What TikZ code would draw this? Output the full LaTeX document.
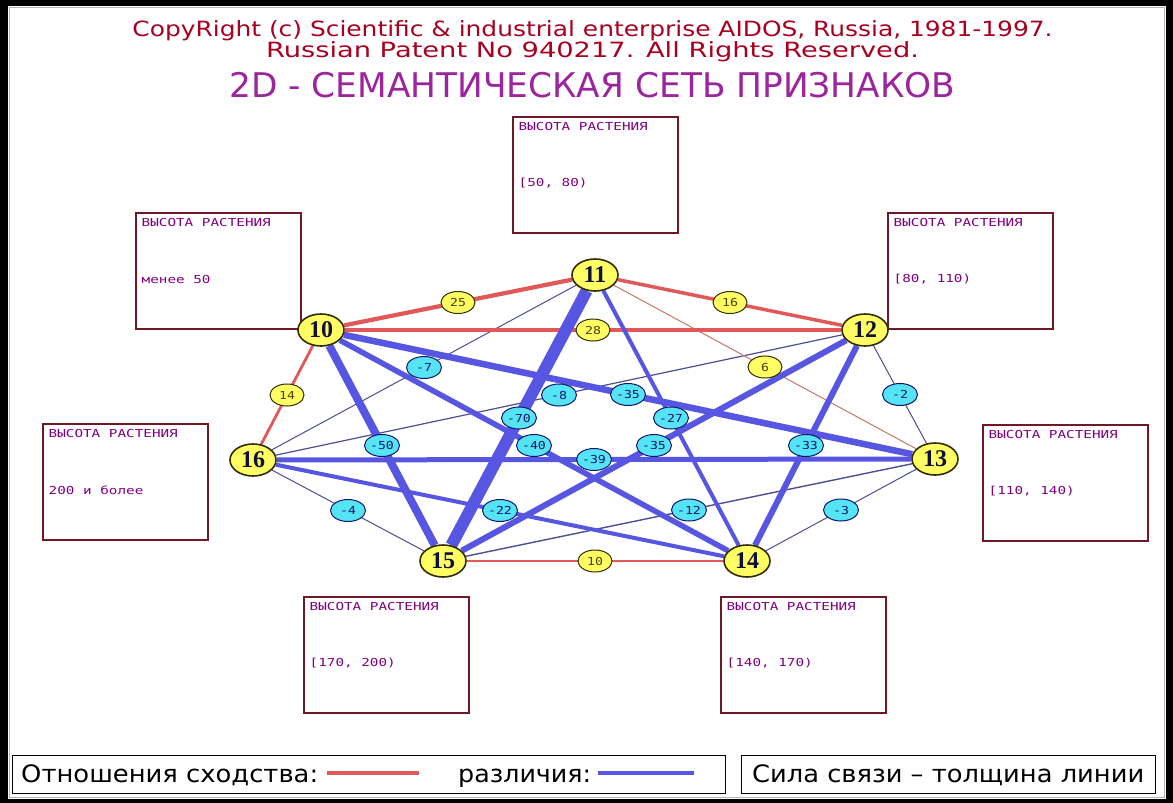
\documentclass[tikz,border=0pt]{standalone}
\usepackage{fontspec}
\usepackage{graphicx}
\setmainfont{DejaVu Sans}
\newfontfamily\monof{DejaVu Sans Mono}
\newfontfamily\numf{Liberation Serif}
\usetikzlibrary{shapes.geometric,calc}
\definecolor{cred}{RGB}{226,88,88}
\definecolor{cthinred}{RGB}{196,120,110}
\definecolor{cblue}{RGB}{86,86,226}
\definecolor{cthin}{RGB}{78,78,150}
\definecolor{nyellow}{RGB}{255,255,100}
\definecolor{ncyan}{RGB}{84,228,244}
\definecolor{nedge}{RGB}{50,44,0}
\definecolor{numtext}{RGB}{16,16,60}
\definecolor{ytext}{RGB}{80,60,0}
\definecolor{ctext}{RGB}{20,20,110}
\definecolor{titlered}{RGB}{168,0,32}
\definecolor{titlepurple}{RGB}{156,36,156}
\definecolor{boxtext}{RGB}{128,0,128}
\definecolor{boxborder}{RGB}{112,24,40}
\pgfdeclarelayer{bg}
\pgfdeclarelayer{edges}
\pgfsetlayers{bg,edges,main}
\newcommand\fitw[3]{\resizebox{#1}{\height}{\fontsize{#2}{#2}\selectfont #3}}
\newcommand\btx[1]{\scalebox{1.3}[1]{#1}}
\newcommand\lbx[1]{\scalebox{1.2}[1]{#1}}
\newcommand\mkbox[4]{%
  \node[infobox] (#1) at (#2,#3) {};
  \node[boxtxt] (#1t) at ($(#1.north west)+(6.5,10)$) {\btx{ВЫСОТА РАСТЕНИЯ}};
  \node[boxtxt] (#1v) at ($(#1.north west)+(6.5,67)$) {\btx{#4}};
}
\begin{document}
\begin{tikzpicture}[x=1pt,y=-1pt,
  vert/.style={ellipse, draw=nedge, line width=1.6pt, fill=nyellow, minimum width=46pt, minimum height=32pt, inner sep=0pt, text=numtext, font=\numf\bfseries\fontsize{24}{24}\selectfont},
  ylab/.style={ellipse, draw=nedge, line width=1pt, fill=nyellow, minimum width=34pt, minimum height=22pt, inner sep=0pt, text=ytext, font=\monof\fontsize{11}{11}\selectfont},
  clab/.style={ellipse, draw=ctext, line width=1pt, fill=ncyan, minimum width=35pt, minimum height=22pt, inner sep=0pt, text=ctext, font=\monof\fontsize{11}{11}\selectfont},
  rd/.style={draw=cred, line width=#1},
  bl/.style={draw=cblue, line width=#1},
  thinbl/.style={draw=cthin, line width=#1},
  infobox/.style={draw=boxborder, line width=1.5pt, minimum width=165pt, minimum height=116pt, anchor=north west, inner sep=0pt},
  boxtxt/.style={anchor=west, inner sep=0pt, text=boxtext, font=\monof\fontsize{11}{11}\selectfont},
  legbox/.style={draw=black, line width=1.3pt, anchor=north west, inner sep=0pt, minimum height=38pt},
  legtxt/.style={anchor=base west, inner sep=0pt, text=black}
]
\useasboundingbox (0,0) rectangle (1173,803);
\begin{pgfonlayer}{bg}
  \fill[black] (0,0) rectangle (1173,803);
  \fill[white] (8,6) rectangle (1166,799);
  \draw[gray!60, line width=1pt] (9.5,7.5) rectangle (1164.5,797.5);
\end{pgfonlayer}

% titles
\node[anchor=base, inner sep=0pt, text=titlered] (t1) at (592.5,36)
  {\fitw{920pt}{21}{CopyRight (c) Scientific \& industrial enterprise AIDOS, Russia, 1981-1997.}};
\node[anchor=base, inner sep=0pt, text=titlered] (t2) at (592.5,57.5)
  {\fitw{653pt}{21}{Russian Patent No 940217. All Rights Reserved.}};
\node[anchor=base west, inner sep=0pt, text=titlepurple] (t3) at (229,97) {\fitw{726pt}{34}{2D - СЕМАНТИЧЕСКАЯ СЕТЬ ПРИЗНАКОВ}};

% info boxes
\mkbox{b11}{512}{116}{[50, 80)}
\mkbox{b10}{135}{212}{менее 50}
\mkbox{b12}{887}{212}{[80, 110)}
\mkbox{b16}{42}{423}{200 и более}
\mkbox{b13}{982}{424}{[110, 140)}
\mkbox{b15}{303}{596}{[170, 200)}
\mkbox{b14}{720}{596}{[140, 170)}

% vertices
\node[vert] (n10) at (321,330) {10};
\node[vert] (n11) at (595,275) {11};
\node[vert] (n12) at (865,330) {12};
\node[vert] (n13) at (935,459) {13};
\node[vert] (n14) at (747,561) {14};
\node[vert] (n15) at (443,561) {15};
\node[vert] (n16) at (253,460) {16};

% edges
\begin{pgfonlayer}{edges}
  \draw[thinbl=1] (n11) -- (n16);
  \draw[thinbl=1.2] (n12) -- (n16);
  \draw[thinbl=1] (n12) -- (n13);
  \draw[thinbl=1] (n13) -- (n14);
  \draw[thinbl=1.4] (n15) -- (n13);
  \draw[thinbl=1] (n16) -- (n15);
  \draw[draw=cthinred, line width=1pt] (n11) -- (n13);
  \draw[rd=1.5] (n15) -- (n14);
  \draw[rd=2.8] (n10) -- (n16);
  \draw[rd=3.5] (n10) -- (n12);
  \draw[rd=3.5] (n11) -- (n12);
  \draw[rd=4.2] (n10) -- (n11);
  \draw[bl=4] (n16) -- (n14);
  \draw[bl=4] (n11) -- (n14);
  \draw[bl=5] (n16) -- (n13);
  \draw[bl=5.5] (n10) -- (n14);
  \draw[bl=6] (n12) -- (n14);
  \draw[bl=6] (n12) -- (n15);
  \draw[bl=6.5] (n10) -- (n13);
  \draw[bl=8] (n10) -- (n15);
  \draw[bl=12] (n11) -- (n15);
\end{pgfonlayer}

% edge labels
\path (n10) -- node[ylab] (l1011) {\lbx{25}} (n11);
\path (n11) -- node[ylab] (l1112) {\lbx{16}} (n12);
\path (n10) -- node[ylab] (l1012) {\lbx{28}} (n12);
\path (n10) -- node[ylab] (l1016) {\lbx{14}} (n16);
\path (n11) -- node[ylab] (l1113) {\lbx{6}} (n13);
\path (n15) -- node[ylab] (l1514) {\lbx{10}} (n14);
\path (n10) -- node[clab] (l1015) {\lbx{-50}} (n15);
\path (n10) -- node[clab] (l1013) {\lbx{-35}} (n13);
\path (n10) -- node[clab] (l1014) {\lbx{-40}} (n14);
\path (n11) -- node[clab] (l1116) {\lbx{-7}} (n16);
\path (n12) -- node[clab] (l1216) {\lbx{-8}} (n16);
\path (n11) -- node[clab] (l1115) {\lbx{-70}} (n15);
\path (n16) -- node[clab] (l1613) {\lbx{-39}} (n13);
\path (n11) -- node[clab] (l1114) {\lbx{-27}} (n14);
\path (n12) -- node[clab] (l1215) {\lbx{-35}} (n15);
\path (n12) -- node[clab] (l1214) {\lbx{-33}} (n14);
\path (n12) -- node[clab] (l1213) {\lbx{-2}} (n13);
\path (n13) -- node[clab] (l1314) {\lbx{-3}} (n14);
\path (n15) -- node[clab] (l1513) {\lbx{-12}} (n13);
\path (n16) -- node[clab] (l1614) {\lbx{-22}} (n14);
\path (n16) -- node[clab] (l1615) {\lbx{-4}} (n15);

% legend
\node[legbox, minimum width=713pt] (lg1) at (12,755) {};
\node[legbox, minimum width=414pt] (lg2) at (741,755) {};
\node[legtxt] (lt1) at (21,782) {\fitw{297pt}{24}{Отношения сходства:}};
\node[legtxt] (lt2) at (458,782) {\fitw{133pt}{24}{различия:}};
\node[legtxt] (lt3) at (752,782) {\fitw{392pt}{24}{Сила связи – толщина линии}};
\coordinate (r1) at (327,773);
\coordinate (r2) at (419,773);
\coordinate (s1) at (598,773);
\coordinate (s2) at (694,773);
\draw[draw=cred, line width=4pt] (r1) -- (r2);
\draw[draw=cblue, line width=4pt] (s1) -- (s2);
\end{tikzpicture}
\end{document}
